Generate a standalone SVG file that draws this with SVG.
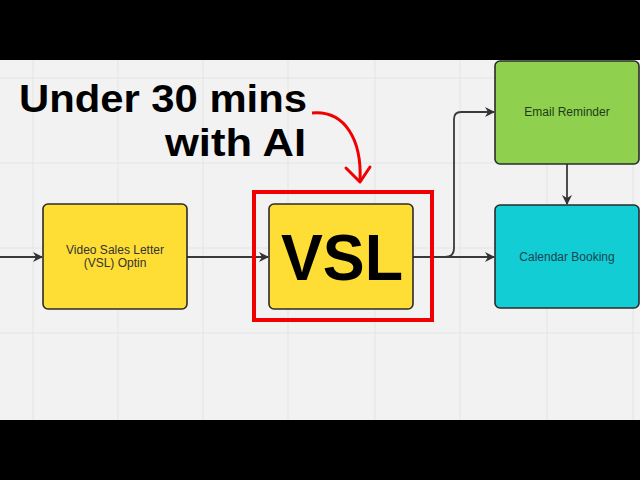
<svg xmlns="http://www.w3.org/2000/svg" width="640" height="480" viewBox="0 0 640 480">
<defs>
<marker id="ah" viewBox="0 0 10 10" refX="9" refY="5" markerWidth="10" markerHeight="10" markerUnits="userSpaceOnUse" orient="auto">
<path d="M0,0 L10,5 L0,10 L3,5 Z" fill="#333"/>
</marker>
<style>
.node{stroke:#2b2b2b;stroke-width:1.6}
.lbl{font-family:"Liberation Sans",Arial,sans-serif;font-size:12px;text-anchor:middle}
.conn{fill:none;stroke:#3a3a3a;stroke-width:1.8}
.grid{stroke:#e4e4e4;stroke-width:1}
</style>
</defs>
<rect x="0" y="0" width="640" height="480" fill="#000"/>
<rect x="0" y="60" width="640" height="360" fill="#f2f2f2"/>
<g id="grid">
<path class="grid" d="M33,60V420M118,60V420M203,60V420M288,60V420M375,60V420M460,60V420M547,60V420M633,60V420M0,78H640M0,163H640M0,248H640M0,333H640"/>
</g>
<g id="connectors">
<path class="conn" d="M0,257H42" marker-end="url(#ah)"/>
<path class="conn" d="M187,257H268" marker-end="url(#ah)"/>
<path class="conn" d="M413,257H494" marker-end="url(#ah)"/>
<path class="conn" d="M445,257Q454,257 454,248V119Q454,112 461,112H494" marker-end="url(#ah)"/>
<path class="conn" d="M567,164V204" marker-end="url(#ah)"/>
</g>
<g id="node-vsl-optin">
<rect class="node" x="43" y="204" width="144" height="105" rx="5" fill="#fedd35"/>
<text class="lbl" x="115" y="254" fill="#333">Video Sales Letter</text>
<text class="lbl" x="115" y="267" fill="#333">(VSL) Optin</text>
</g>
<g id="node-vsl">
<rect class="node" x="269" y="204" width="144" height="105" rx="5" fill="#fedd35"/>
<text x="342" y="280" font-family="Liberation Sans,Arial,sans-serif" font-weight="bold" font-size="64" text-anchor="middle" textLength="122" lengthAdjust="spacingAndGlyphs" fill="#000">VSL</text>
</g>
<g id="node-email">
<rect class="node" x="495" y="61" width="144" height="103" rx="5" fill="#8fd14f"/>
<text class="lbl" x="567" y="116" fill="#223a1a">Email Reminder</text>
</g>
<g id="node-calendar">
<rect class="node" x="495" y="205" width="144" height="103" rx="5" fill="#12cdd4"/>
<text class="lbl" x="567" y="261" fill="#1b4350" font-family="Open Sans,Liberation Sans,sans-serif">Calendar Booking</text>
</g>
<g id="highlight">
<rect x="254" y="192" width="178" height="128" fill="none" stroke="#f00000" stroke-width="4"/>
<path d="M312,113C345,110 362,140 360,181" fill="none" stroke="#f00000" stroke-width="3"/>
<path d="M346,168L360,182L370,167" fill="none" stroke="#f00000" stroke-width="3" stroke-linecap="round" stroke-linejoin="round"/>
</g>
<g id="title" font-family="Liberation Sans,Arial,sans-serif" font-weight="bold" font-size="39" fill="#000" text-anchor="end">
<text x="307" y="112" textLength="288" lengthAdjust="spacingAndGlyphs">Under 30 mins</text>
<text x="306" y="156" textLength="141" lengthAdjust="spacingAndGlyphs">with AI</text>
</g>
</svg>
